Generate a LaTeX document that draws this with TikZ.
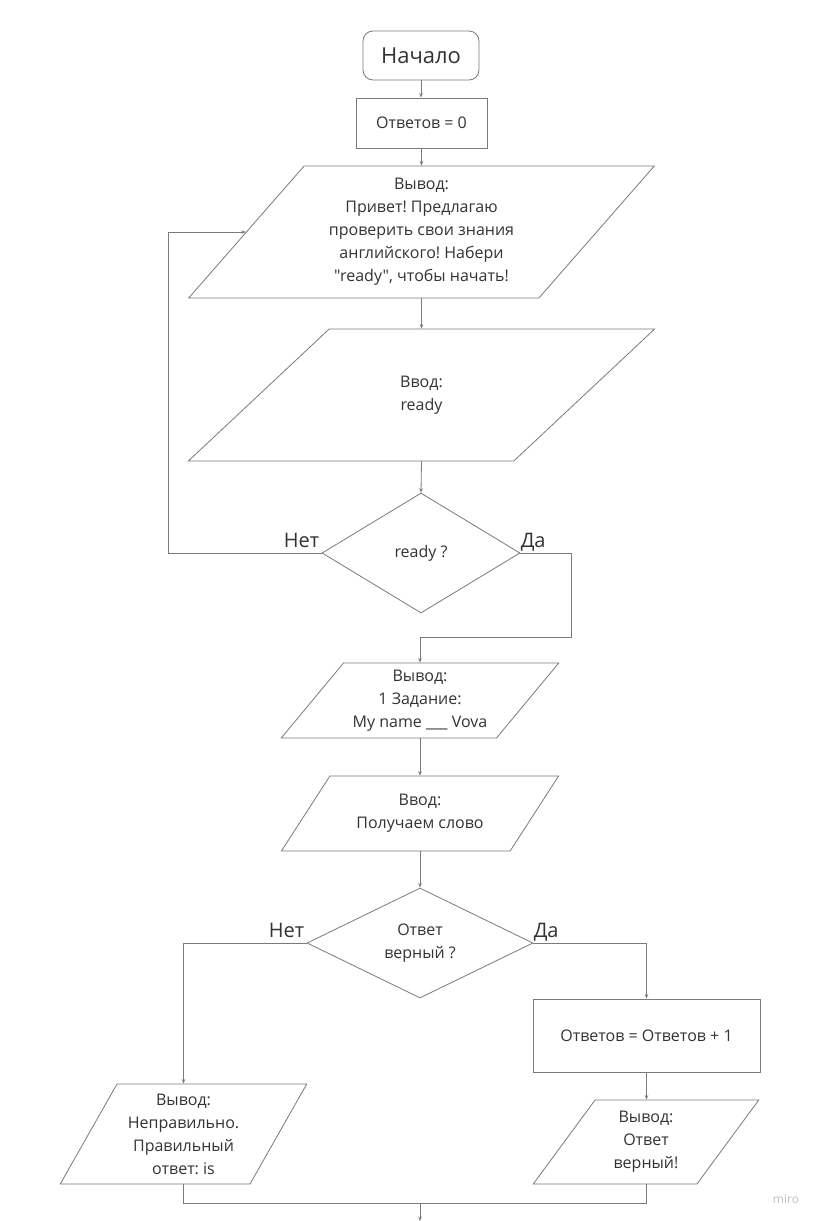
\documentclass[tikz,border=0pt]{standalone}
\usepackage{fontspec}
\setmainfont{Open Sans}[Ligatures=TeXOff]
\usetikzlibrary{shapes.geometric,arrows.meta,positioning}
\definecolor{linec}{HTML}{7A7A7A}
\definecolor{textc}{HTML}{333333}
\frenchspacing
\begin{document}
\begin{tikzpicture}[x=1pt, y=-1pt, line width=0.8pt, >={Stealth[length=4.5pt,width=3.5pt]},
	every node/.style={text=textc, font=\fontsize{16}{23}\selectfont},
	box/.style={draw=linec, rectangle, inner sep=0pt, align=center},
	io/.style={draw=linec, trapezium, trapezium stretches=true, inner sep=0pt, align=center},
	ask/.style={draw=linec, diamond, aspect=2, inner sep=0pt, align=center},
	lbl/.style={inner sep=0pt, font=\fontsize{20}{24}\selectfont},
	flow/.style={draw=linec, ->}]
	\useasboundingbox[fill=white] (0,0) rectangle (818,1221);
	\node[box, rounded corners=10pt, minimum width=116pt, minimum height=49pt, font=\fontsize{22}{26}\selectfont] (start) at (421,55.5) {Начало};
	\node[box, minimum width=131pt, minimum height=50pt] (init) at (421.5,123) {Ответов = 0};
	\node[io, trapezium left angle=49.7, trapezium right angle=130.3, minimum width=467pt, minimum height=132pt] (out1) at (421.5,232)
		{Вывод:\\Привет! Предлагаю\\проверить свои знания\\английского! Набери\\"ready", чтобы начать!};
	\node[io, trapezium left angle=49.7, trapezium right angle=130.3, minimum width=467pt, minimum height=132pt] (in1) at (421.5,395) {Ввод:\\ready};
	\node[ask, minimum width=198pt, minimum height=120pt] (ask1) at (421,553) {ready ?};
	\node[io, trapezium left angle=48.2, trapezium right angle=131.8, minimum width=278pt, minimum height=75pt] (out2) at (420,700.5)
		{Вывод:\\1 Задание:\\My name \_\_\_ Vova};
	\node[io, trapezium left angle=48.2, trapezium right angle=131.8, minimum width=278pt, minimum height=75pt] (in2) at (420,813.5) {Ввод:\\Получаем слово};
	\node[ask, minimum width=226pt, minimum height=110pt] (ask2) at (420,943) {Ответ\\верный ?};
	\node[box, minimum width=227pt, minimum height=73pt] (inc) at (646.5,1035.5) {Ответов = Ответов + 1};
	\node[io, trapezium left angle=59.5, trapezium right angle=120.5, minimum width=247pt, minimum height=100pt] (wrong) at (183.5,1134)
		{Вывод:\\Неправильно.\\Правильный\\ответ: is};
	\node[io, trapezium left angle=57.3, trapezium right angle=122.7, minimum width=226pt, minimum height=84pt] (right) at (646,1142)
		{Вывод:\\Ответ\\верный!};
	\node[lbl, anchor=base east] (no1) at ([xshift=-2pt,yshift=6pt]ask1.west) {Нет};
	\node[lbl, anchor=base west] (yes1) at ([xshift=0pt,yshift=6pt]ask1.east) {Да};
	\node[lbl, anchor=base east] (no2) at ([xshift=-2pt,yshift=6pt]ask2.west) {Нет};
	\node[lbl, anchor=base west] (yes2) at ([xshift=0pt,yshift=6pt]ask2.east) {Да};
	\node[text=black!25, font=\fontsize{12}{14}\selectfont] (logo) at (786,1199) {miro};
	\path (168,553) coordinate (loop)
		(571,637) coordinate (turn)
		(420,1203) coordinate (merge)
		(420,1221) coordinate (exit);
	\draw[flow] (start.south) -- (start.south |- init.north);
	\draw[flow] (init.south) -- (init.south |- out1.north);
	\draw[flow] (out1.center |- out1.south) -- (out1.center |- in1.north);
	\draw[flow] (in1.center |- in1.south) -- (ask1.north);
	\draw[flow] (ask1.west) -- (loop) |- (out1.west);
	\draw[flow] (ask1.east) -| (turn) -- (turn -| out2.center) -- (out2.center |- out2.north);
	\draw[flow] (out2.center |- out2.south) -- (out2.center |- in2.north);
	\draw[flow] (in2.center |- in2.south) -- (ask2.north);
	\draw[flow] (ask2.west) -| (wrong.center |- wrong.north);
	\draw[flow] (ask2.east) -| (inc.north);
	\draw[flow] (inc.south) -- (inc.south |- right.north);
	\draw[draw=linec] (wrong.center |- wrong.south) |- (merge) -| (right.center |- right.south);
	\draw[flow] (merge) -- (exit);
\end{tikzpicture}
\end{document}
